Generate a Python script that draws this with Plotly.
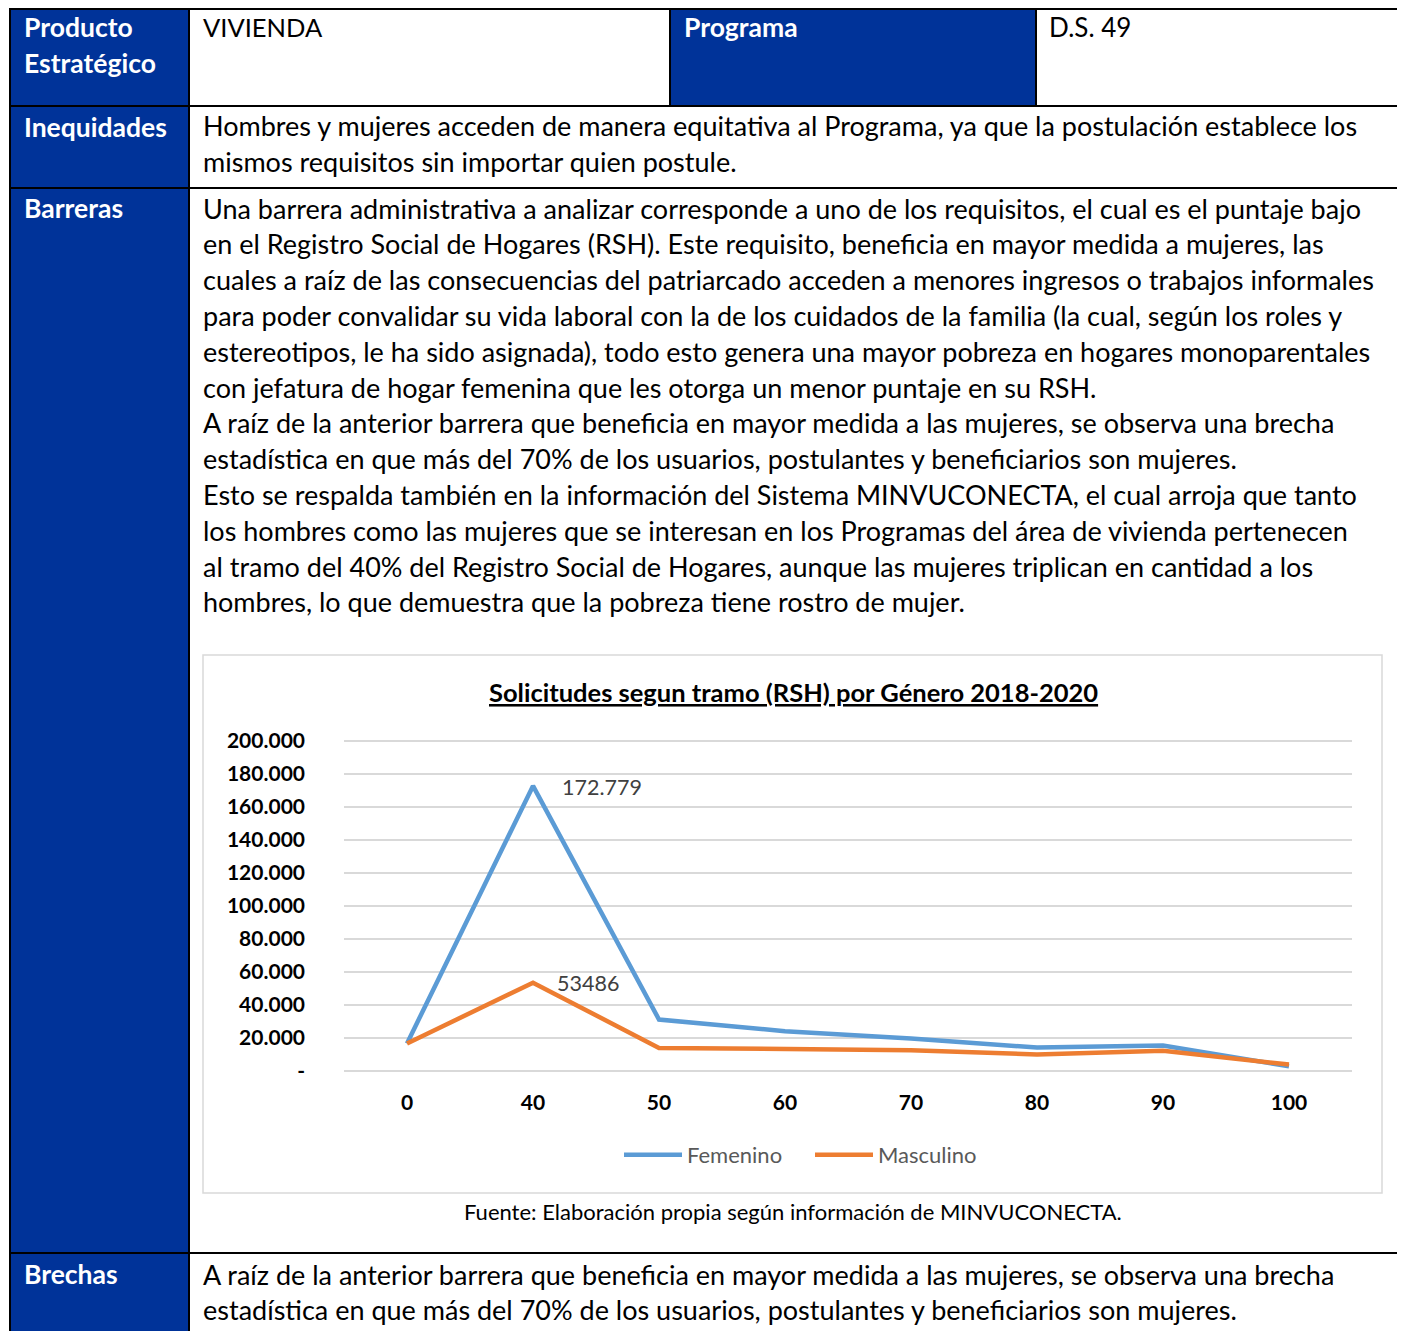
import plotly.graph_objects as go

OFF = 8  # browser body margin
W, H = 1405 - OFF, 1331 - OFF
FONT = "Lato"
BLUE = "#003399"

# ---------------- data ----------------
tramos = ["0", "40", "50", "60", "70", "80", "90", "100"]
femenino = [16700, 172779, 31200, 24100, 19700, 14200, 15400, 2900]
masculino = [16700, 53486, 14000, 13000, 12600, 10000, 12200, 3900]
y_tickvals = [0, 20000, 40000, 60000, 80000, 100000, 120000, 140000, 160000, 180000, 200000]
y_ticktext = ["-", "20.000", "40.000", "60.000", "80.000", "100.000", "120.000",
              "140.000", "160.000", "180.000", "200.000"]
label_fem = "172.779"
label_masc = "53486"

chart_title = "Solicitudes segun tramo (RSH) por Género 2018-2020"
fuente = "Fuente: Elaboración propia según información de MINVUCONECTA."

inequidades_lines = [
    "Hombres y mujeres acceden de manera equitativa al Programa, ya que la postulación establece los",
    "mismos requisitos sin importar quien postule.",
]
barreras_lines = [
    "Una barrera administrativa a analizar corresponde a uno de los requisitos, el cual es el puntaje bajo",
    "en el Registro Social de Hogares (RSH). Este requisito, beneficia en mayor medida a mujeres, las",
    "cuales a raíz de las consecuencias del patriarcado acceden a menores ingresos o trabajos informales",
    "para poder convalidar su vida laboral con la de los cuidados de la familia (la cual, según los roles y",
    "estereotipos, le ha sido asignada), todo esto genera una mayor pobreza en hogares monoparentales",
    "con jefatura de hogar femenina que les otorga un menor puntaje en su RSH.",
    "A raíz de la anterior barrera que beneficia en mayor medida a las mujeres, se observa una brecha",
    "estadística en que más del 70% de los usuarios, postulantes y beneficiarios son mujeres.",
    "Esto se respalda también en la información del Sistema MINVUCONECTA, el cual arroja que tanto",
    "los hombres como las mujeres que se interesan en los Programas del área de vivienda pertenecen",
    "al tramo del 40% del Registro Social de Hogares, aunque las mujeres triplican en cantidad a los",
    "hombres, lo que demuestra que la pobreza tiene rostro de mujer.",
]
brechas_lines = [
    "A raíz de la anterior barrera que beneficia en mayor medida a las mujeres, se observa una brecha",
    "estadística en que más del 70% de los usuarios, postulantes y beneficiarios son mujeres.",
]


def X(px):
    return (px - OFF) / W


def Y(py):
    return 1 - (py - OFF) / H


fig = go.Figure()
fig.add_trace(go.Scatter(x=tramos, y=femenino, mode="lines", name="Femenino",
                         line=dict(color="#5B9BD5", width=4.5)))
fig.add_trace(go.Scatter(x=tramos, y=masculino, mode="lines", name="Masculino",
                         line=dict(color="#ED7D31", width=4.5)))

shapes = []
shapes.append(dict(type="rect", xref="paper", yref="paper", x0=X(10), x1=X(189), y0=Y(1331), y1=Y(8),
                   fillcolor=BLUE, line=dict(width=0), layer="below"))
shapes.append(dict(type="rect", xref="paper", yref="paper", x0=X(670), x1=X(1036), y0=Y(106), y1=Y(8),
                   fillcolor=BLUE, line=dict(width=0), layer="below"))
shapes.append(dict(type="rect", xref="paper", yref="paper", x0=X(203), x1=X(1382), y0=Y(1193), y1=Y(655),
                   fillcolor="rgba(0,0,0,0)", line=dict(color="#D9D9D9", width=1.5), layer="below"))


def hline(y, x0, x1):
    shapes.append(dict(type="line", xref="paper", yref="paper", x0=X(x0), x1=X(x1), y0=Y(y), y1=Y(y),
                       line=dict(color="black", width=2)))


def vline(x, y0, y1):
    shapes.append(dict(type="line", xref="paper", yref="paper", x0=X(x), x1=X(x), y0=Y(y0), y1=Y(y1),
                       line=dict(color="black", width=2)))


hline(9, 10, 1398)
hline(106, 10, 1398)
hline(188, 10, 1398)
hline(1253, 10, 1398)
vline(10, 8, 1331)
vline(189, 8, 1331)
vline(1398, 8, 1331)
vline(670, 8, 106)
vline(1036, 8, 106)

ann = []
PADX = 3  # annotation inner padding


def text(s, x, y, size=27, color="black", bold=False, anchor="left"):
    xx = x - PADX if anchor == "left" else x
    ann.append(dict(text=("<b>%s</b>" % s) if bold else s, x=X(xx), y=Y(y), xref="paper", yref="paper",
                    xanchor=anchor, yanchor="middle", showarrow=False,
                    font=dict(family=FONT, size=size, color=color)))


text("Producto", 25, 27, size=26.5, color="white", bold=True)
text("Estratégico", 25, 63, size=26.5, color="white", bold=True)
text("Inequidades", 25, 127, size=26.5, color="white", bold=True)
text("Barreras", 25, 208, size=26.5, color="white", bold=True)
text("Brechas", 25, 1274, size=26.5, color="white", bold=True)
text("Programa", 685, 27, size=26.5, color="white", bold=True)
text("VIVIENDA", 204, 27, size=25.5)
text("D.S. 49", 1050, 27, size=26)

LS = 35.8
BODY = 27
for i, s in enumerate(inequidades_lines):
    text(s, 204, 126 + i * LS, size=BODY)
for i, s in enumerate(barreras_lines):
    text(s, 204, 208 + i * LS, size=BODY)
for i, s in enumerate(brechas_lines):
    text(s, 204, 1274 + i * LS, size=BODY)

text("<u>%s</u>" % chart_title, 793, 692, size=25.5, bold=True, anchor="center")
text(fuente, 793, 1211, size=22, anchor="center")

i40 = tramos.index("40")
ann.append(dict(text=label_fem, x=i40, y=femenino[i40], xref="x", yref="y", xanchor="left",
                yanchor="middle", xshift=27, yshift=-1, showarrow=False,
                font=dict(family=FONT, size=21.5, color="#404040")))
ann.append(dict(text=label_masc, x=i40, y=masculino[i40], xref="x", yref="y", xanchor="left",
                yanchor="middle", xshift=22, showarrow=False,
                font=dict(family=FONT, size=21.5, color="#404040")))

# y range padded so the 0 and 200.000 gridlines are drawn inside the plot area
pad = 2500
ppu = (1071 - 741) / 200000.0
fig.update_layout(
    width=W, height=H,
    margin=dict(l=0, r=0, t=0, b=0, autoexpand=False),
    paper_bgcolor="white", plot_bgcolor="white",
    shapes=shapes, annotations=ann,
    showlegend=True,
    legend=dict(orientation="h", x=X(619), y=Y(1155), xanchor="left", yanchor="middle",
                font=dict(family=FONT, size=22, color="#595959"), itemwidth=58,
                entrywidth=118, bgcolor="rgba(0,0,0,0)"),
    xaxis=dict(domain=[X(344), X(1352)], type="category", range=[-0.5, 7.5],
               showgrid=False, zeroline=False, showline=False, ticks="",
               tickfont=dict(family=FONT, size=21, color="black", weight="bold"),
               ticklabelstandoff=13),
    yaxis=dict(domain=[Y(1071 + pad * ppu), Y(741 - pad * ppu)], range=[-pad, 200000 + pad],
               tickvals=y_tickvals, ticktext=y_ticktext,
               showgrid=True, gridcolor="#D9D9D9", gridwidth=1.5, zeroline=False, showline=False,
               ticks="", tickfont=dict(family=FONT, size=21, color="black", weight="bold"),
               ticklabelstandoff=38),
)

fig.write_html("out.html")
